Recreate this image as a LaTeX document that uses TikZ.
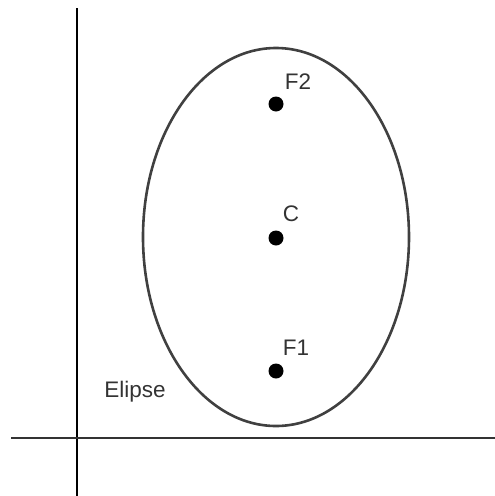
\documentclass[tikz,border=0pt]{standalone}
\usepackage{fontspec}
\setmainfont{Liberation Sans}
\usetikzlibrary{positioning}
\definecolor{curvegray}{RGB}{64,64,64}
\definecolor{textgray}{RGB}{51,51,51}

\begin{document}
\begin{tikzpicture}[x=1pt, y=-1pt,
    point/.style={circle, fill=black, inner sep=0pt, minimum size=15pt},
    tag/.style={font=\fontsize{22.5}{26}\selectfont, text=textgray, inner sep=1pt},
    axis/.style={line width=2pt}
  ]
    \useasboundingbox (0,0) rectangle (495,496);
    % axes
    \coordinate (ytop) at (77,8);
    \coordinate (ybot) at (77,496);
    \coordinate (xleft) at (11,437.5);
    \coordinate (xright) at (495,437.5);
    \draw[axis, black] (ytop) -- (ybot);
    \draw[axis, black!80] (xleft) -- (xright);
    % ellipse and its points
    \draw[line width=2.6pt, curvegray] (276,237) ellipse (133pt and 189pt);
    \node[point] (f2) at (276,104) {};
    \node[point] (c)  at (276,238) {};
    \node[point] (f1) at (276,371) {};
    \node[tag] (f2lbl) at (298,82)  {F2};
    \node[tag] (clbl)  at (291,214) {C};
    \node[tag] (f1lbl) at (296,348) {F1};
    \node[tag] (name)  at (135,392) {Elipse};
  \end{tikzpicture}
\end{document}
